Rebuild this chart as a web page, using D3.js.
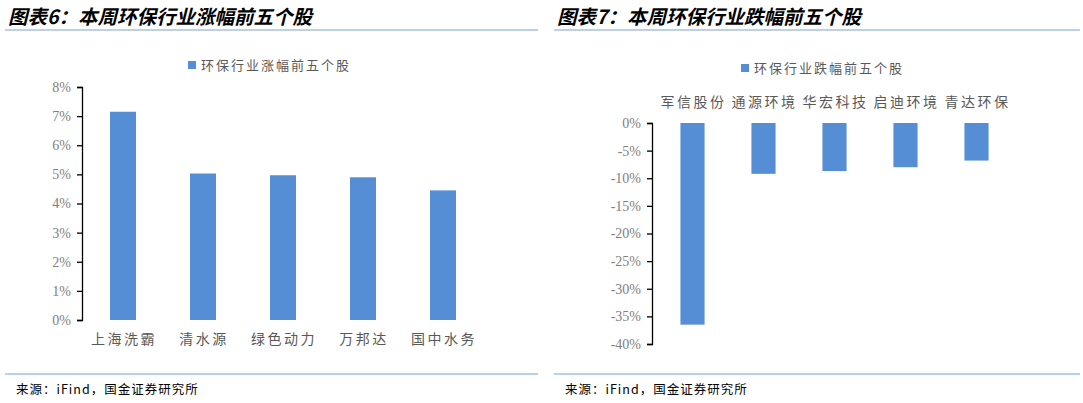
<!DOCTYPE html>
<html><head><meta charset="utf-8">
<script src="https://cdn.jsdelivr.net/npm/d3@7"></script>
<style>body{margin:0;background:#fff}</style>
</head><body>
<svg id="c" width="1083" height="403"></svg>
<script>
const gainNames = ["上海洗霸", "清水源", "绿色动力", "万邦达", "国中水务"];
const gainValues = [7.15, 5.03, 4.97, 4.90, 4.45];
const gainTicks = [0, 1, 2, 3, 4, 5, 6, 7, 8];
const lossNames = ["军信股份", "通源环境", "华宏科技", "启迪环境", "青达环保"];
const lossValues = [-36.5, -9.2, -8.7, -8.0, -6.8];
const lossTicks = [0, -5, -10, -15, -20, -25, -30, -35, -40];

const svg = d3.select("#c");
const blue = "#558ed5";
const cjk = "'Noto Sans CJK SC', sans-serif";
const serif = "'Liberation Serif', 'DejaVu Serif', serif";

// headers and footers
[[8, 538, "图表6：本周环保行业涨幅前五个股"], [557, 1080, "图表7：本周环保行业跌幅前五个股"]].forEach(([x0, x1, t]) => {
  svg.append("text").attr("x", x0).attr("y", 24).text(t)
    .attr("font-family", cjk).attr("font-weight", "bold").attr("font-style", "italic")
    .attr("font-size", 19.5).attr("fill", "#000");
  svg.append("line").attr("x1", x0 - 3).attr("x2", x1).attr("y1", 30).attr("y2", 30)
    .attr("stroke", "#7ba3c4").attr("stroke-width", 1.2);
  svg.append("line").attr("x1", x0 - 3).attr("x2", x1).attr("y1", 374).attr("y2", 374)
    .attr("stroke", "#7ba3c4").attr("stroke-width", 1.2);
  svg.append("text").attr("x", x0 + 8).attr("y", 394).text("来源：iFind，国金证券研究所")
    .attr("font-family", cjk).attr("font-size", 12.5).attr("letter-spacing", 1).attr("fill", "#000");
});

function legend(cx, y, label) {
  const g = svg.append("g").attr("transform", `translate(${cx},${y})`);
  const t = g.append("text").attr("x", 6).attr("y", 5).text(label)
    .attr("font-family", cjk).attr("font-size", 13).attr("letter-spacing", 2).attr("fill", "#595959");
  const w = t.node().getComputedTextLength();
  t.attr("x", -w / 2 + 6);
  g.append("rect").attr("x", -w / 2 - 7).attr("y", -4).attr("width", 8).attr("height", 8).attr("fill", blue);
}

function styleAxis(g) {
  g.select(".domain").attr("stroke", "#000").attr("stroke-width", 1.3);
  g.selectAll(".tick line").attr("stroke", "#000").attr("stroke-width", 1.3);
  g.selectAll(".tick text").attr("font-family", serif).attr("font-size", 14).attr("fill", "#808080");
}

function catLabels(x, names, y) {
  svg.append("g").selectAll("text").data(names).enter().append("text")
    .attr("x", d => x(d) + x.bandwidth() / 2 + 1).attr("y", y).attr("text-anchor", "middle").text(d => d)
    .attr("font-family", cjk).attr("font-size", 14).attr("letter-spacing", 2.5).attr("fill", "#595959");
}

// left chart
{
  const x = d3.scaleBand().domain(gainNames).range([83, 483]).paddingInner(0.675).paddingOuter(0.3375);
  const y = d3.scaleLinear().domain([0, 8]).range([320, 87]);
  svg.selectAll(".g").data(gainValues).enter().append("rect")
    .attr("x", (d, i) => x(gainNames[i])).attr("width", x.bandwidth())
    .attr("y", d => y(d)).attr("height", d => y(0) - y(d)).attr("fill", blue);
  const ay = svg.append("g").attr("transform", "translate(82,0)")
    .call(d3.axisLeft(y).tickValues(gainTicks).tickFormat(d => d + "%").tickSize(5).tickSizeOuter(5).tickPadding(6));
  styleAxis(ay);
  catLabels(x, gainNames, 344);
  legend(270, 65, "环保行业涨幅前五个股");
}

// right chart
{
  const x = d3.scaleBand().domain(lossNames).range([657, 1012]).paddingInner(0.66).paddingOuter(0.33);
  const y = d3.scaleLinear().domain([0, -40]).range([123, 344]);
  svg.selectAll(".l").data(lossValues).enter().append("rect")
    .attr("x", (d, i) => x(lossNames[i])).attr("width", x.bandwidth())
    .attr("y", y(0)).attr("height", d => y(d) - y(0)).attr("fill", blue);
  const ay = svg.append("g").attr("transform", "translate(652,0)")
    .call(d3.axisLeft(y).tickValues(lossTicks).tickFormat(d => d + "%").tickSize(5).tickSizeOuter(5).tickPadding(6));
  styleAxis(ay);
  catLabels(x, lossNames, 107);
  legend(823, 68, "环保行业跌幅前五个股");
}
</script>
</body></html>
